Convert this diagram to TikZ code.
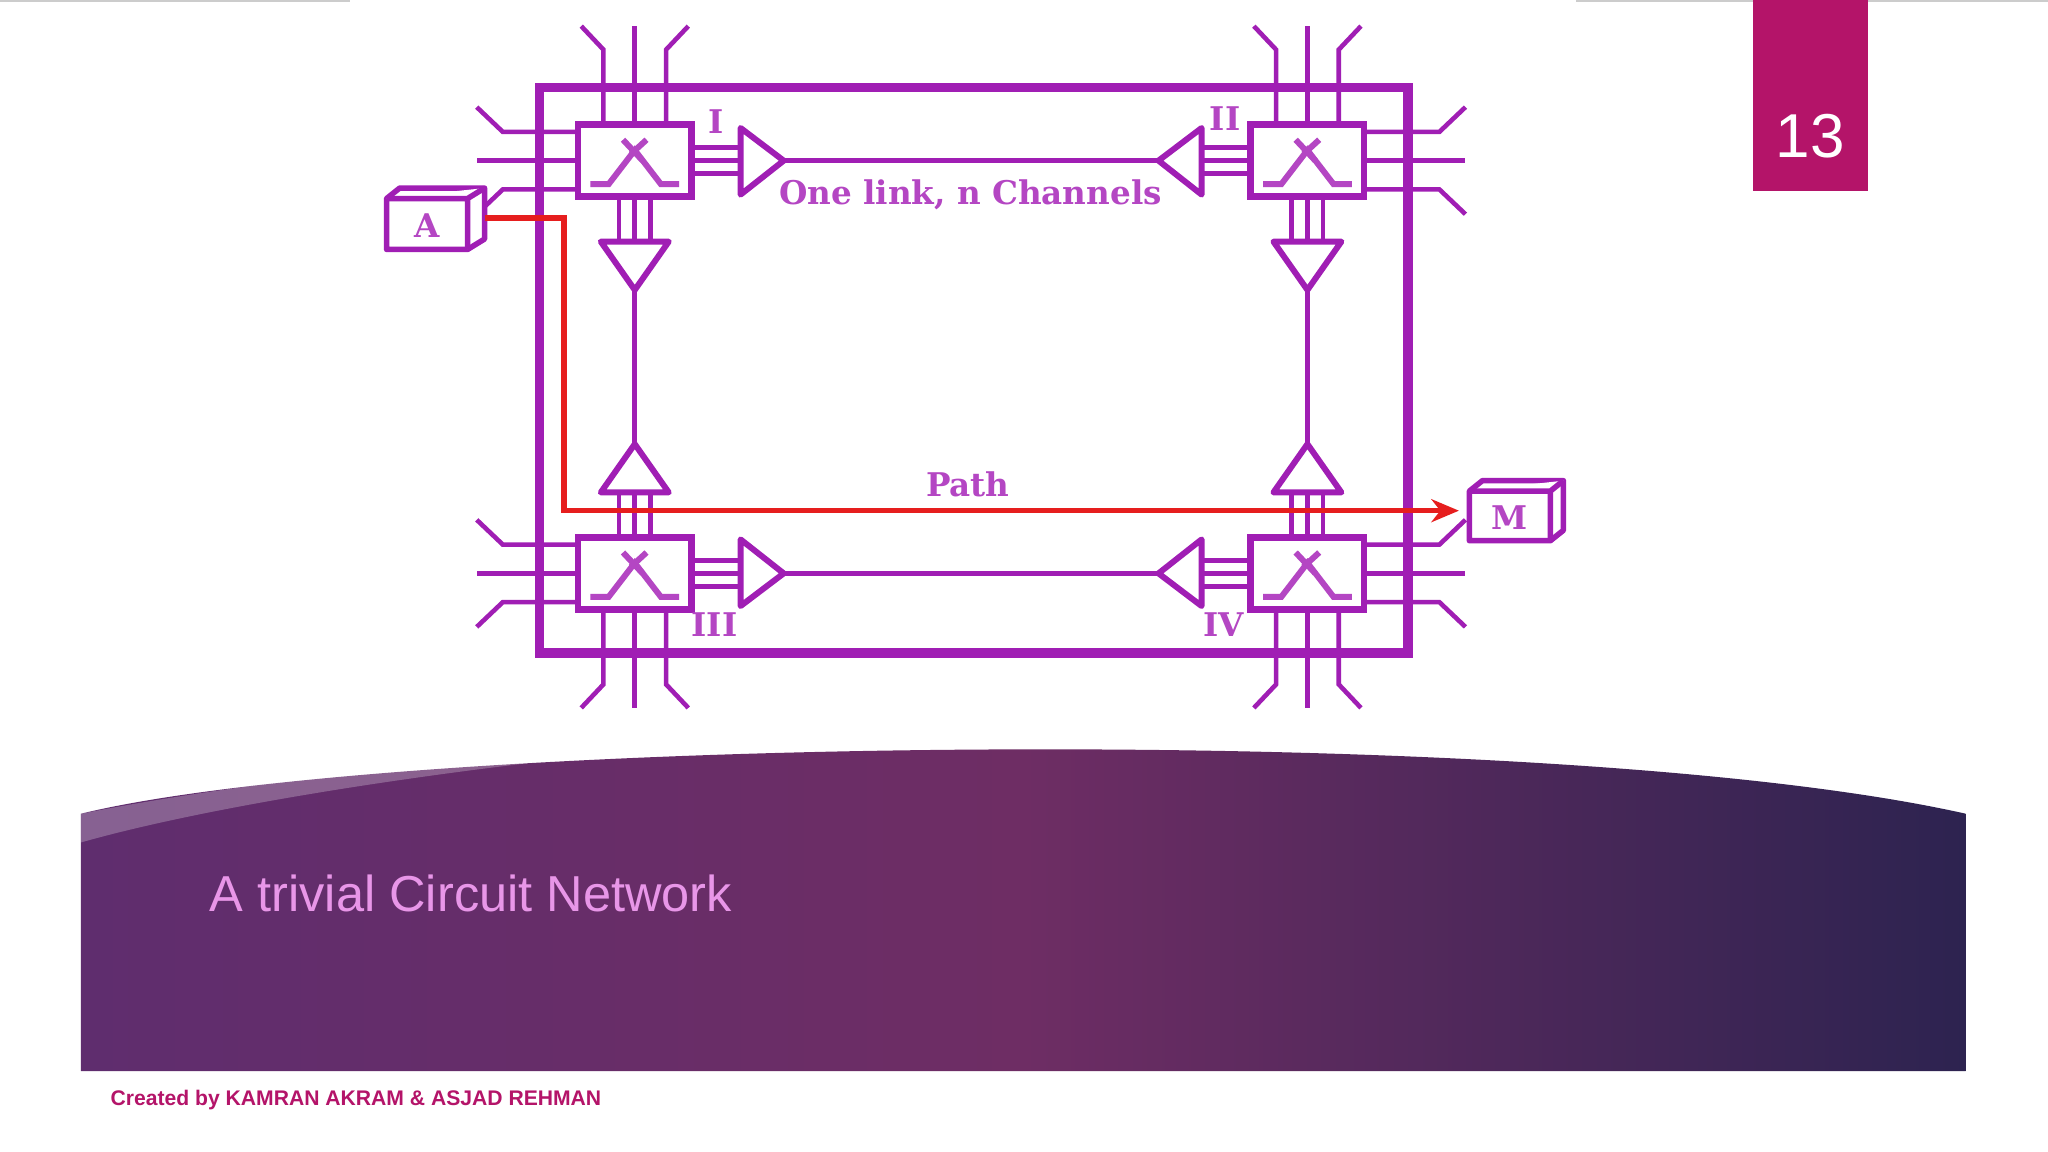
\documentclass[tikz,border=0pt]{standalone}
\usepackage{fontspec}
\setmainfont{DejaVu Serif}
\newfontfamily\lsans{Liberation Sans}
\usetikzlibrary{arrows.meta}
\definecolor{pur}{RGB}{160,30,180}
\definecolor{purl}{RGB}{180,70,195}
\definecolor{redp}{RGB}{230,30,30}
\definecolor{mag}{RGB}{180,20,105}
\definecolor{bandA}{RGB}{95,45,110}
\definecolor{bandB}{RGB}{110,45,100}
\definecolor{bandC}{RGB}{45,35,80}
\tikzset{
  wire/.style={draw=pur,line width=1.0pt},
  frame/.style={draw=pur,line width=2pt},
  swbox/.style={draw=pur,line width=1.4pt,fill=white,minimum width=0.87cm,minimum height=0.55cm,inner sep=0},
  tri/.style={draw=pur,line width=1.3pt,fill=white,line join=round},
  glyph/.style={draw=purl,line width=1.3pt},
  lbl/.style={text=purl,font=\bfseries\fontsize{7.1}{8}\selectfont,inner sep=0},
  cube/.style={draw=pur,line width=1.2pt,fill=white,line join=round},
}
\begin{document}
\begin{tikzpicture}[x=0.01cm,y=-0.01cm]
\useasboundingbox (0,0) rectangle (1568,882);
\fill[white] (0,0) rectangle (1568,882);
\draw[gray!40,line width=0.4pt] (0,0.5)--(268,0.5) (1207,0.5)--(1568,0.5);
% band
\shade[left color=bandA,right color=bandC,middle color=bandB]
  (62,623) .. controls (300,565) and (1180,550) .. (1505,623) -- (1505,820) -- (62,820) -- cycle;
\fill[white,opacity=0.25] (62,623) .. controls (200,596) and (350,583) .. (460,578) .. controls (300,595) and (150,620) .. (62,645) -- cycle;
\node[anchor=west,text={rgb,255:red,232;green,150;blue,232},font=\lsans\fontsize{11}{13}\selectfont,inner sep=0] (title) at (160,684) {A trivial Circuit Network};
\node[anchor=west,text=mag,font=\lsans\bfseries\fontsize{4.6}{5}\selectfont,inner sep=0] (foot) at (84,842) {Created by KAMRAN AKRAM \& ASJAD REHMAN};
\fill[mag] (1342,0) rectangle (1430,146);
\node[text=white,font=\lsans\fontsize{13.5}{15}\selectfont,inner sep=0] (num) at (1386,104) {13};
% switch stubs and connectors
\foreach \cx/\cy/\sx/\sy in {486/123/1/1,1001/123/-1/1,486/439/1/-1,1001/439/-1/-1}{
  \begin{scope}[shift={(\cx,\cy)},xscale=\sx,yscale=\sy]
    \draw[wire] (0,-27)--(0,-103);
    \draw[wire] (-24,-27)--(-24,-85)--(-41,-103);
    \draw[wire] (24,-27)--(24,-85)--(41,-103);
    \draw[wire] (-43,0)--(-121,0);
    \draw[wire] (-43,-22)--(-101,-22)--(-121,-41);
    \draw[wire] (-43,22)--(-101,22)--(-121,41);
    \draw[wire] (44,-10)--(81,-10) (44,0)--(81,0) (44,10)--(81,10);
    \draw[tri] (81,-25)--(81,26)--(114,0)--cycle;
    \draw[wire] (-12,28)--(-12,62) (0,28)--(0,62) (12,28)--(12,62);
    \draw[tri] (-26,62)--(26,62)--(0,99)--cycle;
  \end{scope}
}
\draw[frame] (413,67) rectangle (1078,500);
% switches
\node[swbox] (s1) at (486,123) {};
\node[swbox] (s2) at (1001,123) {};
\node[swbox] (s3) at (486,439) {};
\node[swbox] (s4) at (1001,439) {};
\foreach \n in {s1,s2,s3,s4}{
  \draw[glyph] ([shift={(-34,18)}]\n.center)--([shift={(-20,18)}]\n.center)--([shift={(0,-8)}]\n.center)--([shift={(20,18)}]\n.center)--([shift={(34,18)}]\n.center);
  \draw[glyph] ([shift={(-9,-16)}]\n.center)--([shift={(6,0)}]\n.center) ([shift={(9,-16)}]\n.center)--([shift={(-3,-5)}]\n.center);
}
% long links
\coordinate (r1) at (600,123); \coordinate (l2) at (886,123);
\coordinate (r3) at (600,439); \coordinate (l4) at (886,439);
\coordinate (d1) at (486,222); \coordinate (u3) at (486,340);
\coordinate (d2) at (1001,222); \coordinate (u4) at (1001,340);
\draw[wire] (r1)--(l2) (r3)--(l4) (d1)--(u3) (d2)--(u4);
% labels
\node[lbl] (lI) at (548,93) {I};
\node[lbl] (lII) at (938,91) {II};
\node[lbl] (lIII) at (547,478) {III};
\node[lbl] (lIV) at (937,478) {IV};
\node[lbl] (one) at (743,149) {One link, n Channels};
\node[lbl] (path) at (741,371) {Path};
% cubes
\draw[cube] (306,144)--(371,144)--(371,183)--(358,191)--(296,191)--(296,152)--cycle;
\draw[cube] (296,152)--(358,152)--(371,144) (358,152)--(358,191);
\node[lbl] (A) at (327,173) {A};
\draw[cube] (1135,368)--(1197,368)--(1197,406)--(1187,414)--(1125,414)--(1125,376)--cycle;
\draw[cube] (1125,376)--(1187,376)--(1197,368) (1187,376)--(1187,414);
\node[lbl] (M) at (1156,396) {M};
\coordinate (aout) at (371,167);
\coordinate (min) at (1117,391);
\draw[draw=redp,line width=1.2pt,-{Stealth[length=6pt,width=5pt]}] (aout)--(432,167)--(432,391)--(min);
\end{tikzpicture}
\end{document}
